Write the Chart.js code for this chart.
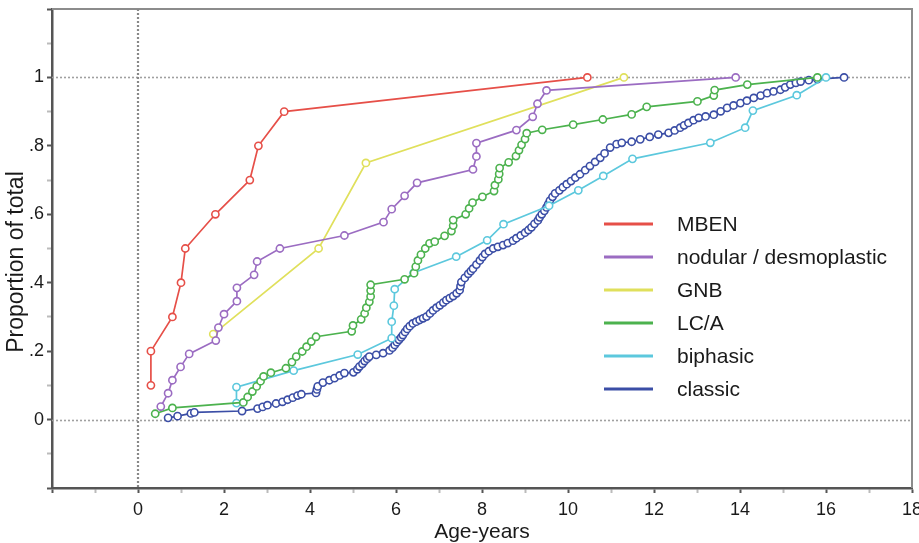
<!DOCTYPE html>
<html><head><meta charset="utf-8">
<script src="https://cdn.jsdelivr.net/npm/chart.js@4.4.0/dist/chart.umd.min.js"></script>
<style>html,body{margin:0;padding:0;background:#fff;}#wrap{width:919px;height:543px;}</style>
</head><body><div id="wrap"><canvas id="c" width="919" height="543"></canvas></div>
<script>
// ---------- DATA ----------
const seriesNames = ["MBEN", "nodular / desmoplastic", "GNB", "LC/A", "biphasic", "classic"];
const seriesColors = ["#e64f48", "#9b6cc2", "#e0e05c", "#4cb24e", "#5cc8dd", "#3b4ea6"];

const mbenAge  = [0.3, 0.3, 0.8, 1.0, 1.1, 1.8, 2.6, 2.8, 3.4, 10.45];
const mbenProp = [0.1, 0.2, 0.3, 0.4, 0.5, 0.6, 0.7, 0.8, 0.9, 1.0];

const nodAge  = [0.53, 0.70, 0.80, 0.99, 1.19, 1.81, 1.87, 2.00, 2.30, 2.30, 2.70, 2.77, 3.30, 4.80, 5.71, 5.90, 6.20, 6.49, 7.79, 7.87, 7.87, 8.80, 9.18, 9.29, 9.50, 13.9];
const nodProp = [0.038, 0.077, 0.115, 0.154, 0.192, 0.231, 0.269, 0.308, 0.346, 0.385, 0.423, 0.462, 0.5, 0.538, 0.577, 0.615, 0.654, 0.692, 0.731, 0.769, 0.808, 0.846, 0.885, 0.923, 0.962, 1.0];

const gnbAge  = [1.75, 4.2, 5.3, 11.3];
const gnbProp = [0.25, 0.5, 0.75, 1.0];

const lcaAge  = [0.40, 0.80, 2.45, 2.55, 2.66, 2.76, 2.85, 2.92, 3.09, 3.44, 3.58, 3.68, 3.82, 3.92, 4.03, 4.14, 4.97, 5.00, 5.19, 5.27, 5.31, 5.38, 5.41, 5.41, 5.41, 6.20, 6.42, 6.46, 6.51, 6.58, 6.68, 6.78, 6.90, 7.13, 7.29, 7.33, 7.33, 7.62, 7.70, 7.78, 8.01, 8.28, 8.30, 8.38, 8.40, 8.41, 8.62, 8.79, 8.86, 8.92, 9.00, 9.04, 9.40, 10.12, 10.81, 11.48, 11.83, 13.01, 13.39, 13.41, 14.17, 15.80];
const lcaProp = [0.017, 0.034, 0.050, 0.066, 0.082, 0.097, 0.112, 0.126, 0.137, 0.150, 0.168, 0.184, 0.199, 0.213, 0.228, 0.242, 0.258, 0.275, 0.293, 0.310, 0.327, 0.344, 0.360, 0.377, 0.394, 0.410, 0.428, 0.447, 0.465, 0.482, 0.500, 0.515, 0.520, 0.537, 0.551, 0.567, 0.583, 0.600, 0.617, 0.634, 0.651, 0.668, 0.685, 0.702, 0.718, 0.735, 0.752, 0.770, 0.787, 0.803, 0.820, 0.837, 0.847, 0.862, 0.877, 0.892, 0.914, 0.930, 0.947, 0.963, 0.979, 1.000];

const biAge  = [2.29, 2.29, 3.62, 5.11, 5.90, 5.90, 5.95, 5.97, 6.41, 7.40, 8.12, 8.50, 9.56, 10.24, 10.82, 11.50, 13.31, 14.12, 14.30, 15.32, 16.0];
const biProp = [0.048, 0.095, 0.143, 0.190, 0.238, 0.286, 0.333, 0.381, 0.429, 0.476, 0.524, 0.571, 0.625, 0.670, 0.712, 0.762, 0.809, 0.853, 0.903, 0.948, 1.0];

const clAge  = [0.70, 0.92, 1.23, 1.31, 2.42, 2.78, 2.90, 3.01, 3.21, 3.36, 3.48, 3.60, 3.71, 3.80, 4.14, 4.16, 4.18, 4.30, 4.45, 4.57, 4.69, 4.80, 5.01, 5.10, 5.15, 5.22, 5.27, 5.33, 5.38, 5.54, 5.70, 5.85, 5.92, 5.97, 6.02, 6.07, 6.12, 6.16, 6.21, 6.26, 6.32, 6.39, 6.47, 6.55, 6.63, 6.71, 6.79, 6.86, 6.94, 7.02, 7.10, 7.17, 7.25, 7.33, 7.41, 7.48, 7.50, 7.52, 7.60, 7.68, 7.74, 7.79, 7.87, 7.95, 8.01, 8.07, 8.16, 8.26, 8.37, 8.49, 8.60, 8.72, 8.80, 8.90, 9.00, 9.08, 9.15, 9.22, 9.30, 9.34, 9.39, 9.45, 9.50, 9.54, 9.58, 9.64, 9.70, 9.80, 9.88, 9.97, 10.07, 10.17, 10.28, 10.40, 10.51, 10.63, 10.75, 10.85, 10.98, 11.13, 11.25, 11.48, 11.68, 11.90, 12.10, 12.34, 12.48, 12.61, 12.70, 12.80, 12.92, 13.04, 13.20, 13.39, 13.55, 13.70, 13.85, 14.01, 14.16, 14.32, 14.48, 14.63, 14.78, 14.94, 15.05, 15.17, 15.30, 15.41, 15.60, 15.80, 16.42];
const clProp = [0.005, 0.010, 0.018, 0.021, 0.025, 0.032, 0.037, 0.042, 0.047, 0.052, 0.058, 0.064, 0.070, 0.074, 0.078, 0.088, 0.097, 0.108, 0.115, 0.121, 0.129, 0.136, 0.138, 0.147, 0.155, 0.163, 0.171, 0.178, 0.184, 0.189, 0.194, 0.202, 0.210, 0.218, 0.226, 0.233, 0.240, 0.247, 0.256, 0.265, 0.273, 0.281, 0.286, 0.291, 0.296, 0.301, 0.310, 0.319, 0.327, 0.334, 0.342, 0.349, 0.355, 0.361, 0.369, 0.378, 0.390, 0.402, 0.414, 0.426, 0.434, 0.441, 0.453, 0.465, 0.475, 0.484, 0.492, 0.500, 0.505, 0.510, 0.516, 0.523, 0.530, 0.538, 0.546, 0.554, 0.562, 0.572, 0.582, 0.591, 0.600, 0.610, 0.620, 0.630, 0.640, 0.651, 0.661, 0.670, 0.679, 0.688, 0.697, 0.707, 0.717, 0.729, 0.741, 0.753, 0.765, 0.778, 0.795, 0.805, 0.809, 0.812, 0.819, 0.826, 0.833, 0.838, 0.845, 0.853, 0.860, 0.867, 0.875, 0.882, 0.886, 0.891, 0.901, 0.911, 0.918, 0.925, 0.932, 0.940, 0.947, 0.954, 0.959, 0.964, 0.971, 0.979, 0.984, 0.988, 0.992, 0.995, 1.000];

const xTitle = "Age-years";
const yTitle = "Proportion of total";
const refLinesY = [0, 1];
const refLinesX = [0];

// ---------- CHART ----------
const FONT = "'Liberation Sans', Arial, Helvetica, sans-serif";
const ages  = [mbenAge, nodAge, gnbAge, lcaAge, biAge, clAge];
const props = [mbenProp, nodProp, gnbProp, lcaProp, biProp, clProp];

const datasets = seriesNames.map((name, i) => ({
  label: name,
  data: ages[i].map((a, j) => ({x: a, y: props[i][j]})),
  borderColor: seriesColors[i],
  backgroundColor: seriesColors[i],
  pointBorderColor: seriesColors[i],
  pointBackgroundColor: '#ffffff',
  pointRadius: 3.6,
  pointBorderWidth: 1.6,
  borderWidth: 1.7,
  tension: 0,
  showLine: true,
  fill: false
}));

const framePlugin = {
  id: 'frame',
  beforeDatasetsDraw(chart) {
    const {ctx, chartArea: a, scales: {x, y}} = chart;
    ctx.save();
    ctx.strokeStyle = '#8c8c8c';
    ctx.lineWidth = 2;
    ctx.beginPath();
    ctx.moveTo(a.left, a.top); ctx.lineTo(a.right, a.top); ctx.lineTo(a.right, a.bottom);
    ctx.stroke();
    ctx.setLineDash([2, 2]);
    ctx.strokeStyle = '#a0a0a0';
    ctx.lineWidth = 1.6;
    refLinesY.forEach(v => {
      const py = Math.round(y.getPixelForValue(v)) + 0.5;
      ctx.beginPath(); ctx.moveTo(a.left, py); ctx.lineTo(a.right, py); ctx.stroke();
    });
    ctx.strokeStyle = '#888888';
    ctx.lineWidth = 2.2;
    refLinesX.forEach(v => {
      const px = Math.round(x.getPixelForValue(v));
      ctx.beginPath(); ctx.moveTo(px, a.top); ctx.lineTo(px, a.bottom); ctx.stroke();
    });
    ctx.restore();
  },
  afterDraw(chart) {
    const {ctx, chartArea: a} = chart;
    ctx.save();
    ctx.fillStyle = '#1a1a1a';
    ctx.font = '21px ' + FONT;
    ctx.textAlign = 'center';
    ctx.textBaseline = 'alphabetic';
    ctx.fillText(xTitle, (a.left + a.right) / 2, 538);
    ctx.save();
    ctx.translate(23, 262);
    ctx.rotate(-Math.PI / 2);
    ctx.font = '23px ' + FONT;
    ctx.fillText(yTitle, 0, 0);
    ctx.restore();
    chart.data.datasets.forEach((ds, i) => {
      const yy = Math.round(224.1 + 32.9 * i);
      ctx.strokeStyle = ds.borderColor;
      ctx.lineWidth = 3;
      ctx.beginPath(); ctx.moveTo(604, yy); ctx.lineTo(653, yy); ctx.stroke();
      ctx.font = '21px ' + FONT;
      ctx.textAlign = 'left';
      ctx.textBaseline = 'middle';
      ctx.fillStyle = '#1a1a1a';
      ctx.fillText(ds.label, 677, yy + 1);
    });
    ctx.restore();
  }
};

new Chart(document.getElementById('c'), {
  type: 'scatter',
  data: { datasets },
  plugins: [framePlugin],
  options: {
    responsive: false,
    animation: false,
    layout: { padding: { top: 9, right: 7, left: 0, bottom: 0 } },
    plugins: { legend: { display: false }, tooltip: { enabled: false } },
    scales: {
      x: {
        type: 'linear', min: -2, max: 18,
        afterFit(s) { s.height = 55; s.paddingLeft = 0; s.paddingRight = 0; },
        ticks: {
          stepSize: 1, autoSkip: false, maxRotation: 0, padding: 6,
          font: { size: 18, family: FONT }, color: '#1a1a1a',
          callback(v) { const k = Math.round(v); return (k >= 0 && k % 2 === 0) ? String(k) : ''; }
        },
        grid: {
          drawOnChartArea: false, drawTicks: true, tickLength: 5, tickWidth: 2,
          tickColor: c => (Math.round(c.tick.value) % 2 === 0) ? '#555555' : '#bbbbbb'
        },
        border: { display: true, color: '#555555', width: 2.5 }
      },
      y: {
        type: 'linear', min: -0.2, max: 1.2,
        afterFit(s) { s.width = 52; s.paddingTop = 0; s.paddingBottom = 0; },
        ticks: {
          stepSize: 0.1, autoSkip: false, padding: 3,
          font: { size: 18, family: FONT }, color: '#1a1a1a',
          callback(v) {
            const k = Math.round(v * 10);
            if (k < 0 || k > 10 || k % 2 !== 0) return '';
            if (k === 0) return '0';
            if (k === 10) return '1';
            return '.' + k;
          }
        },
        grid: {
          drawOnChartArea: false, drawTicks: true, tickLength: 5, tickWidth: 2,
          tickColor: c => (Math.round(c.tick.value * 10) % 2 === 0) ? '#555555' : '#bbbbbb'
        },
        border: { display: true, color: '#555555', width: 2.5 }
      }
    }
  }
});
</script>
</body></html>
